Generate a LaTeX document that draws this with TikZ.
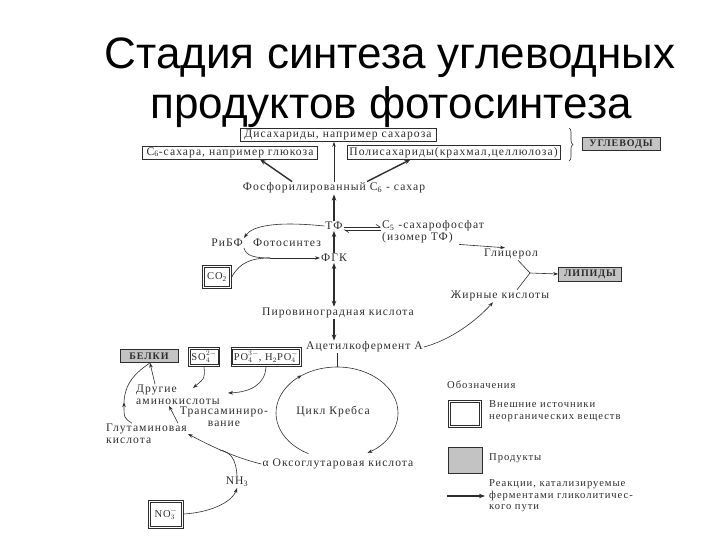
\documentclass[tikz,border=0pt]{standalone}
\usepackage{fontspec}
\setmainfont{Liberation Serif}[LetterSpace=9]
\newfontfamily\titlefont{Liberation Sans}
\usetikzlibrary{arrows.meta, positioning, calc, decorations.pathreplacing}
\definecolor{inkcolor}{RGB}{45, 45, 45}
\definecolor{productgray}{RGB}{195, 195, 195}

\begin{document}
\begin{tikzpicture}[x=1pt, y=-1pt,
    title/.style={font=\titlefont\fontsize{44}{50}\selectfont, anchor=base},
    term/.style={font=\fontsize{11.6}{11.5}\selectfont, text=inkcolor, inner sep=1pt},
    legendtext/.style={term, font=\fontsize{10.6}{11.5}\selectfont},
    framed/.style={term, draw=inkcolor, line width=0.6pt, inner sep=1.5pt},
    product/.style={framed, fill=productgray, font=\bfseries\fontsize{10}{11}\selectfont},
    source/.style={term, font=\fontsize{10.5}{11}\selectfont, draw=inkcolor, line width=0.5pt, inner sep=3pt,
        path picture={\draw[inkcolor, line width=0.5pt]
            ([xshift=1.8pt, yshift=-1.8pt]path picture bounding box.north west) rectangle
            ([xshift=-1.8pt, yshift=1.8pt]path picture bounding box.south east);}},
    flow/.style={draw=inkcolor, line width=0.6pt, -{Stealth[length=5pt, width=3.5pt]}},
    glyco/.style={draw=inkcolor, line width=1.4pt, -{Stealth[length=6pt, width=4.5pt]}},
    twoway/.style={glyco, {Stealth[length=6pt, width=4.5pt]}-{Stealth[length=6pt, width=4.5pt]}},
    harp/.style={draw=inkcolor, line width=0.6pt, -{Straight Barb[harpoon, length=4pt, width=5pt]}},
    plain/.style={draw=inkcolor, line width=0.6pt}
]
\useasboundingbox (0,0) rectangle (720,540);

% Title
\node[title] (title1) at (390,69) {Стадия синтеза углеводных};
\node[title] (title2) at (391,119) {продуктов фотосинтеза};

% Carbohydrates
\node[framed, minimum width=196, minimum height=12] (disacch) at (338,135) {Дисахариды, например сахароза};
\node[framed, minimum width=175, minimum height=12] (hexose) at (230,152.5) {C\textsubscript{6}-сахара, например глюкоза};
\node[framed, minimum width=213, minimum height=12] (polysacch) at (453.5,152.5) {Полисахариды(крахмал,целлюлоза)};
\draw[decorate, decoration={brace, amplitude=4pt}, plain] (569,128) -- (569,161);
\node[product, minimum width=78, minimum height=13] (carbs) at (621,144) {УГЛЕВОДЫ};
\node[term] (phosph) at (334,188) {Фосфорилированный C\textsubscript{6} - сахар};

% Calvin cycle
\node[term] (tp) at (334,226) {ТФ};
\node[term, anchor=north west, align=left, font=\fontsize{11.6}{12.5}\selectfont] (pentose) at (381,219) {C\textsubscript{5} -сахарофосфат\\(изомер ТФ)};
\node[term, anchor=east] (rubp) at (244,243) {РиБФ};
\node[term, anchor=west] (photo) at (252,243) {Фотосинтез};
\node[term] (pga) at (334,258) {ФГК};
\node[source, minimum width=29, minimum height=23] (co2) at (217,277) {CO\textsubscript{2}};

% Lipids
\node[term] (glycerol) at (511,254) {Глицерол};
\node[product, minimum width=63, minimum height=14] (lipids) at (590,274) {ЛИПИДЫ};
\node[term] (fatty) at (500,296) {Жирные кислоты};

% Respiration
\node[term] (pyruvate) at (338,313) {Пировиноградная кислота};
\node[term, anchor=west] (acetyl) at (305,347) {Ацетилкофермент А};
\node[term] (krebs) at (333,412) {Цикл Кребса};
\node[term] (oxo) at (338,464) {α Оксоглутаровая кислота};
\coordinate (kcenter) at (337,413);

% Proteins
\node[product, minimum width=58, minimum height=13] (proteins) at (149,356) {БЕЛКИ};
\node[source, minimum width=31, minimum height=19] (sulfate) at (204,357) {SO$_4^{2-}$};
\node[source, minimum width=67, minimum height=19] (phosphate) at (266,357) {PO$_4^{3-}$, H$_2$PO$_4^-$};
\node[term, anchor=west, align=left] (amino) at (135,395) {Другие\\аминокислоты};
\node[term, anchor=north, align=center] (transam) at (224,406) {Трансаминиро-\\вание};
\node[term, anchor=west, align=left] (glutamate) at (105,434) {Глутаминовая\\кислота};
\node[term] (ammonia) at (237,482) {NH\textsubscript{3}};
\node[source, minimum width=35, minimum height=28] (nitrate) at (166,514) {NO$_3^-$};

% Legend
\node[legendtext, anchor=west] (legend) at (446,385) {Обозначения};
\node[source, minimum width=33, minimum height=27] (legsource) at (465,414) {};
\node[legendtext, anchor=west, align=left] (legsourcetext) at (488,411) {Внешние источники\\неорганических веществ};
\node[framed, fill=productgray, minimum width=34, minimum height=26] (legproduct) at (465,460) {};
\node[legendtext, anchor=west] (legproducttext) at (488,458) {Продукты};
\node[legendtext, anchor=west, align=left] (legarrowtext) at (488,496) {Реакции, катализируемые\\ферментами гликолитичес-\\кого пути};
\coordinate (legstart) at (447,496);
\draw[glyco] (legstart) -- ([xshift=-3]legarrowtext.west);

% Carbohydrate arrows
\draw[glyco] ([xshift=-42]phosph.north) -- ([xshift=30]hexose.south);
\draw[glyco] ([xshift=33]phosph.north) -- ([xshift=-43]polysacch.south);
\draw[flow] (phosph.north) -- (phosph.north |- disacch.south);
\draw[glyco] (tp.north) -- (phosph.south);

% Calvin cycle arrows
\draw[harp] ([yshift=-1]tp.east) -- ([yshift=-1]tp.east -| pentose.west);
\draw[harp] ([yshift=-4]tp.east -| pentose.west) -- ([yshift=-4]tp.east);
\draw[flow] (tp.west) .. controls (275,221) and (252,226) .. (rubp.north east);
\coordinate (co2join) at (270,258);
\draw[plain] (rubp.south east) .. controls (246,256) and (255,258) .. (co2join);
\draw[plain] (co2.east) .. controls (240,262) and (252,258) .. (co2join);
\draw[flow] (co2join) -- (pga.west);
\draw[glyco] (pga.north) -- (tp.south);
\draw[twoway] (pga.south) -- (pga.south |- pyruvate.north);
\draw[glyco] (pga.south |- pyruvate.south) -- (pga.south |- acetyl.north);

% Lipid arrows
\draw[flow] ([xshift=26]pentose.south) -- ([xshift=-6]glycerol.north);
\coordinate (lipjoin) at (530,273);
\draw[plain] ([xshift=7]glycerol.south) -- (lipjoin);
\draw[plain] ([xshift=17]fatty.north) -- (lipjoin);
\draw[flow] (lipjoin) -- (lipids.west);
\draw[flow] (acetyl.east) .. controls (450,340) and (475,322) .. ([xshift=-7]fatty.south);

% Krebs cycle
\draw[plain] (acetyl.south -| kcenter) -- ($(kcenter)+(-90:61 and 46)$);
\draw[flow] ($(kcenter)+(-90:61 and 46)$) arc[start angle=-90, end angle=60, x radius=61, y radius=46];
\draw[flow] ($(kcenter)+(118:61 and 46)$) arc[start angle=118, end angle=235, x radius=61, y radius=46];
\draw[plain] ($(kcenter)+(235:61 and 46)$) arc[start angle=235, end angle=270, x radius=61, y radius=46];

% Amino acid arrows
\coordinate (sulfatein) at (193,388);
\coordinate (phosphatein) at (228,393);
\draw[flow] (sulfate.south) .. controls (205,378) .. (sulfatein);
\draw[flow] (phosphate.south) .. controls (265,385) and (250,392) .. (phosphatein);
\draw[flow] ([xshift=20]amino.north west) -- ([xshift=1]proteins.south);
\coordinate (glumid) at (124,402);
\draw[flow] ([xshift=27]glutamate.north west) .. controls (124,418) .. (glumid);
\draw[plain] (glumid) .. controls (125,380) and (140,370) .. ([xshift=1]proteins.south);
\draw[flow] ([xshift=-10]glutamate.north east) -- ([xshift=-9]amino.south);
\coordinate (nh3join) at (220,450);
\draw[flow] (oxo.west) .. controls (232,457) and (205,443) .. (glutamate.east);
\draw[plain] (ammonia.north) .. controls (236,458) and (230,452) .. (nh3join);
\draw[flow] (nitrate.east) .. controls (215,512) and (233,500) .. (ammonia.south);

\end{tikzpicture}
\end{document}
